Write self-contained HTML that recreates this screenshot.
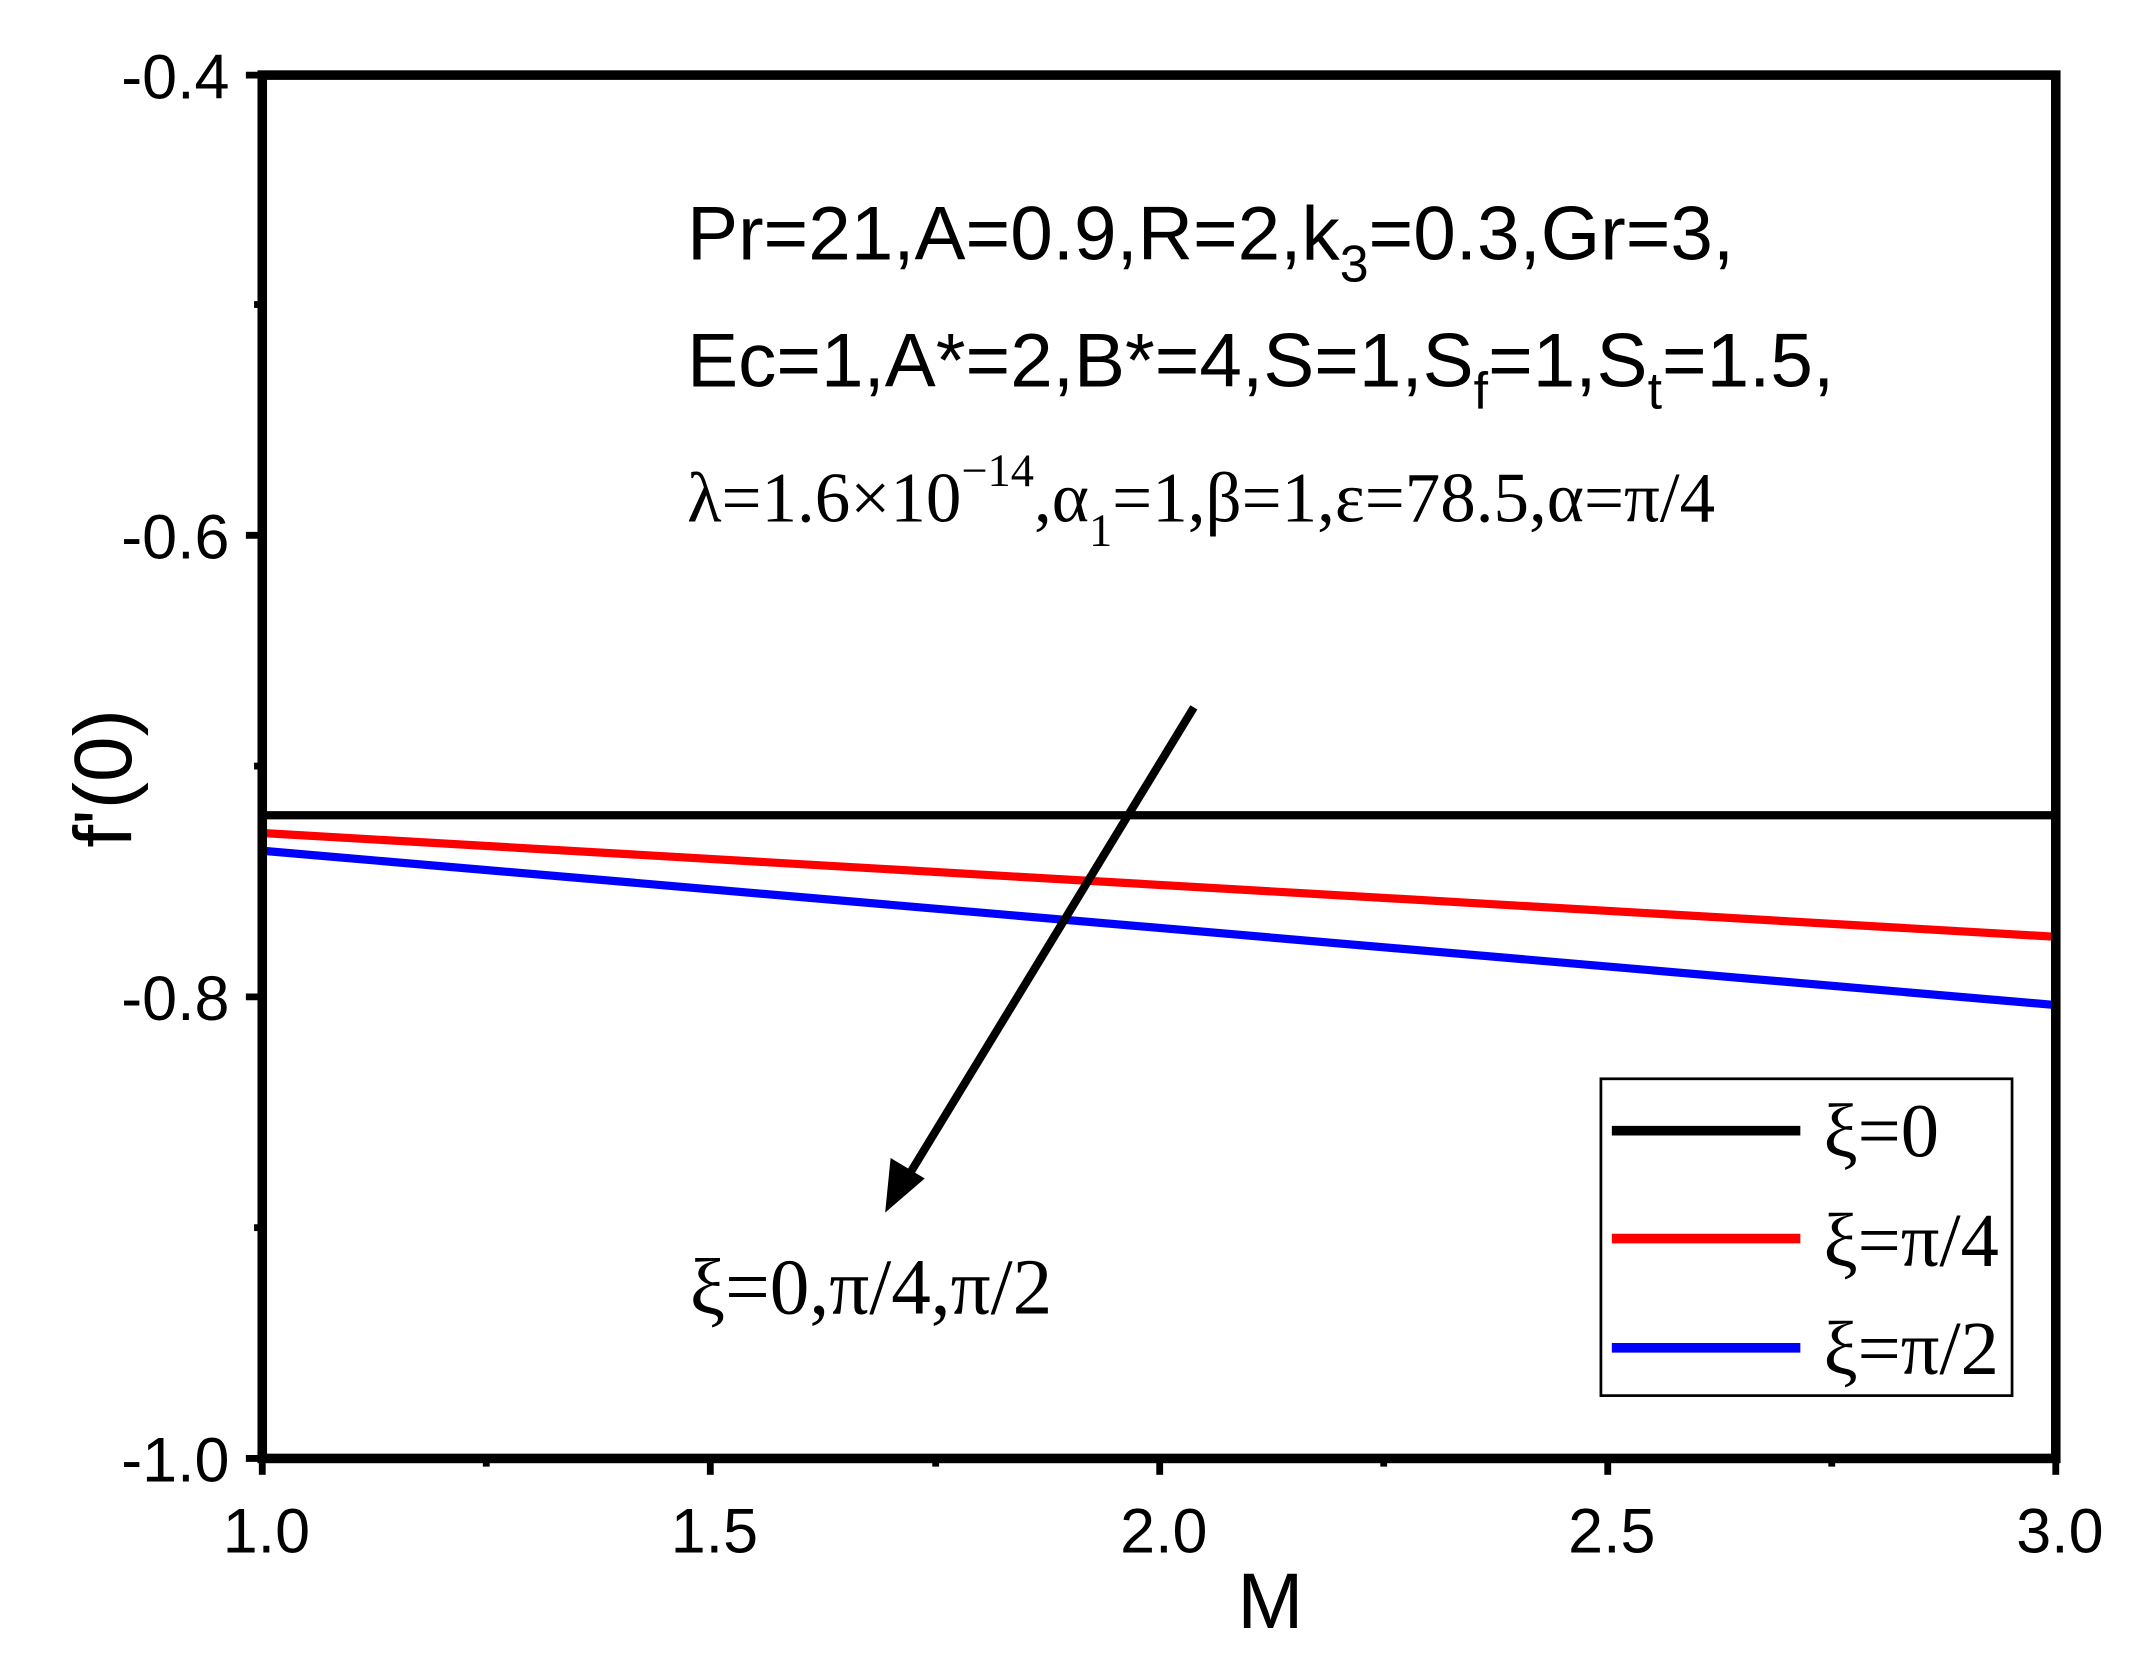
<!DOCTYPE html>
<html><head><style>html,body{margin:0;padding:0;background:#fff}svg{display:block}</style></head>
<body>
<svg width="2135" height="1666" viewBox="0 0 1563 1220" preserveAspectRatio="none" xmlns="http://www.w3.org/2000/svg">
<rect width="1563" height="1220" fill="#fff"/>
<g font-family="Liberation Sans, sans-serif" font-size="46" fill="#000">
<!-- series -->
<line x1="192" y1="597" x2="1505" y2="597" stroke="#000" stroke-width="6"/>
<line x1="192" y1="610" x2="1505" y2="686" stroke="#f00" stroke-width="6"/>
<line x1="192" y1="623" x2="1505" y2="736" stroke="#00f" stroke-width="6"/>
<!-- axes box -->
<rect x="192" y="55" width="1313" height="1013" fill="none" stroke="#000" stroke-width="7"/>
<g stroke="#000" stroke-width="5">
<line x1="180" y1="55" x2="192" y2="55"/><line x1="180" y1="392" x2="192" y2="392"/>
<line x1="180" y1="730" x2="192" y2="730"/><line x1="180" y1="1068" x2="192" y2="1068"/>
<line x1="186" y1="223" x2="192" y2="223"/><line x1="186" y1="561" x2="192" y2="561"/><line x1="186" y1="899" x2="192" y2="899"/>
<line x1="192" y1="1068" x2="192" y2="1080"/><line x1="520" y1="1068" x2="520" y2="1080"/>
<line x1="849" y1="1068" x2="849" y2="1080"/><line x1="1177" y1="1068" x2="1177" y2="1080"/><line x1="1505" y1="1068" x2="1505" y2="1080"/>
<line x1="356" y1="1068" x2="356" y2="1074"/><line x1="685" y1="1068" x2="685" y2="1074"/>
<line x1="1013" y1="1068" x2="1013" y2="1074"/><line x1="1341" y1="1068" x2="1341" y2="1074"/>
</g>
<g text-anchor="end">
<text x="168" y="72">-0.4</text><text x="168" y="409">-0.6</text>
<text x="168" y="747">-0.8</text><text x="168" y="1085">-1.0</text>
</g>
<g text-anchor="middle">
<text x="195" y="1137">1.0</text><text x="523" y="1137">1.5</text><text x="852" y="1137">2.0</text>
<text x="1180" y="1137">2.5</text><text x="1508" y="1137">3.0</text>
<text x="930" y="1192" font-size="58">M</text>
<text transform="translate(96,570) rotate(-90)" font-size="60">f'(0)</text>
</g>
<!-- annotations -->
<text x="503" y="190" font-size="56">Pr=21,A=0.9,R=2,k<tspan font-size="38" dy="16">3</tspan><tspan dy="-16">=0.3,Gr=3,</tspan></text>
<text x="503" y="283" font-size="56">Ec=1,A*=2,B*=4,S=1,S<tspan font-size="38" dy="16">f</tspan><tspan dy="-16">=1,S</tspan><tspan font-size="38" dy="16">t</tspan><tspan dy="-16">=1.5,</tspan></text>
<text x="503" y="382" font-size="52" font-family="Liberation Serif, serif">λ=1.6×10<tspan font-size="34" dy="-26">−14</tspan><tspan dy="26">,α</tspan><tspan font-size="34" dy="18">1</tspan><tspan dy="-18">=1,β=1,ε=78.5,α=π/4</tspan></text>
<text x="505" y="962" font-size="58" font-family="Liberation Serif, serif">ξ=0,π/4,π/2</text>
<!-- arrow -->
<line x1="874" y1="518" x2="662" y2="866" stroke="#000" stroke-width="6"/>
<polygon points="648,888 652,848 677,863" fill="#000"/>
<!-- legend -->
<rect x="1172" y="790" width="301" height="232" fill="#fff" stroke="#000" stroke-width="2"/>
<line x1="1180" y1="828" x2="1318" y2="828" stroke="#000" stroke-width="7"/>
<line x1="1180" y1="907" x2="1318" y2="907" stroke="#f00" stroke-width="7"/>
<line x1="1180" y1="987" x2="1318" y2="987" stroke="#00f" stroke-width="7"/>
<g font-family="Liberation Serif, serif" font-size="56">
<text x="1335" y="847">ξ=0</text><text x="1335" y="927">ξ=π/4</text><text x="1335" y="1006">ξ=π/2</text>
</g>
</g>
</svg>
</body></html>
